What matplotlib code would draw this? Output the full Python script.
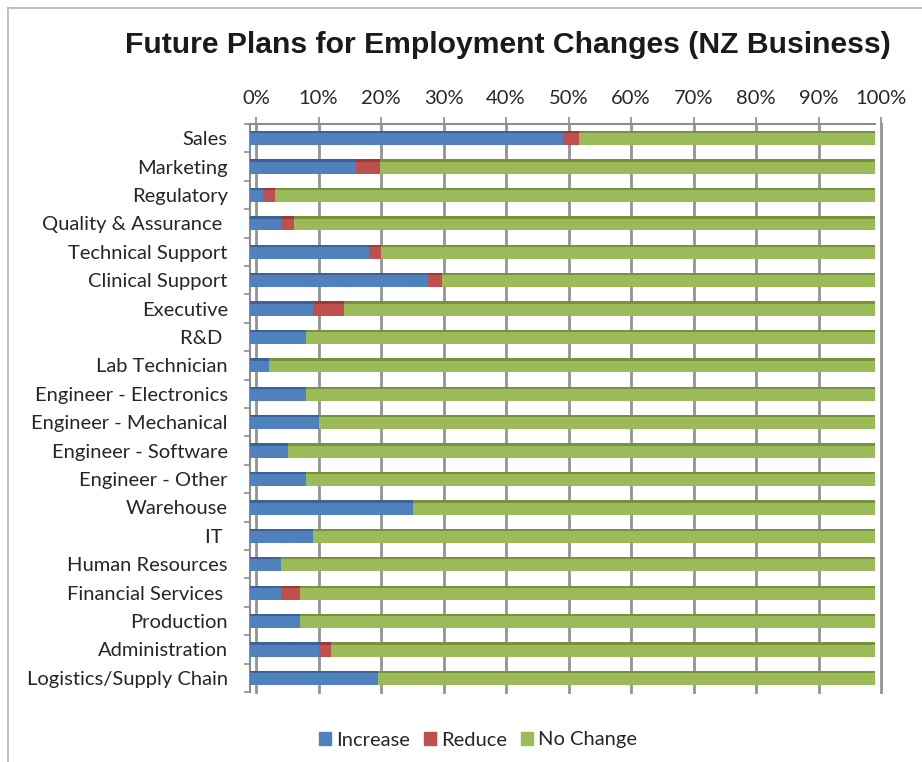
import matplotlib
matplotlib.use("Agg")
import matplotlib.pyplot as plt
import matplotlib.transforms as mtransforms
from matplotlib.lines import Line2D
import numpy as np

categories = ["Sales", "Marketing", "Regulatory", "Quality & Assurance ", "Technical Support",
              "Clinical Support", "Executive", "R&D ", "Lab Technician", "Engineer - Electronics",
              "Engineer - Mechanical", "Engineer - Software", "Engineer - Other", "Warehouse",
              "IT ", "Human Resources", "Financial Services ", "Production", "Administration",
              "Logistics/Supply Chain"]
increase = [50, 17, 2, 5, 19, 28.5, 10, 9, 3, 9, 11, 6, 9, 26, 10, 5, 5, 8, 11, 20.5]
reduce_ = [2.7, 3.8, 2, 2, 2, 2.2, 5, 0, 0, 0, 0, 0, 0, 0, 0, 0, 3, 0, 2, 0]
no_change = [100 - a - b for a, b in zip(increase, reduce_)]
ticks = list(range(0, 101, 10))
tick_labels = [f"{t}%" for t in ticks]
series_names = ["Increase", "Reduce", "No Change"]
colors = ["#4F81BD", "#C0504D", "#9BBB59"]
dark = ["#3A6396", "#983C3A", "#76923C"]

FONT = "Lato"
TXT = "#262626"
FS = 14.5

fig = plt.figure(figsize=(9.22, 7.62), dpi=100)
W, H = 922, 762
ax = fig.add_axes([250 / W, 1 - 692 / H, 625 / W, (692 - 124) / H])

y = np.arange(len(categories))
left = np.zeros(len(categories))
bh = 0.5
for vals, c, dc, name in zip([increase, reduce_, no_change], colors, dark, series_names):
    vals = np.array(vals, dtype=float)
    ax.barh(y, vals, left=left, height=bh, color=c, edgecolor="none", label=name, zorder=3)
    # darker top face to hint the 3D look
    ax.barh(y - bh / 2 + 0.04, vals, left=left, height=0.08, color=dc, edgecolor="none", zorder=4)
    left += vals

ax.set_xlim(0, 100)
ax.set_ylim(len(categories) - 0.5, -0.5)

# gridlines (back wall, slightly offset)
off = mtransforms.ScaledTranslation(6 / 100, 0, fig.dpi_scale_trans)
for t in ticks:
    ax.plot([t, t], [-0.5, len(categories) - 0.5], color="#949494", lw=2.0,
            transform=ax.transData + off, zorder=1, clip_on=False)

ax.xaxis.tick_top()
ax.set_xticks(ticks)
ax.set_xticklabels(tick_labels, fontsize=FS, color=TXT, family=FONT)
ax.tick_params(axis="x", length=5, width=1.2, color="#8c8c8c", pad=7)
for lab in ax.get_xticklabels():
    lab.set_transform(lab.get_transform() + off)
for tl in ax.xaxis.get_major_ticks():
    tl.tick2line.set_transform(tl.tick2line.get_transform() + off)
ax.set_yticks(y)
ax.set_yticklabels(categories, fontsize=FS, color=TXT, family=FONT)
ax.set_yticks(np.arange(len(categories) + 1) - 0.5, minor=True)
ax.tick_params(axis="y", which="major", length=0, pad=16)
ax.tick_params(axis="y", which="minor", length=4, width=1.2, color="#8c8c8c")

for s in ["right", "bottom"]:
    ax.spines[s].set_visible(False)
for s in ["left", "top"]:
    ax.spines[s].set_color("#8c8c8c")
    ax.spines[s].set_linewidth(1.5)
ax.set_facecolor("white")

fig.text(508 / W, 1 - 45 / H, "Future Plans for Employment Changes (NZ Business)",
         ha="center", va="center", fontsize=21.7, fontweight="bold", family="Liberation Sans",
         color="#1a1a1a")

handles = [plt.Rectangle((0, 0), 1, 1, color=c) for c in colors]
leg = fig.legend(handles, series_names, loc="center", bbox_to_anchor=(478 / W, 1 - 740 / H),
                 ncol=3, frameon=False, prop={"family": FONT, "size": FS},
                 handlelength=0.6, handleheight=0.6, handletextpad=0.25, columnspacing=0.7)
for t in leg.get_texts():
    t.set_color(TXT)

# outer chart frame
fig.add_artist(Line2D([8 / W, 8 / W], [0, 1 - 8 / H], color="#b5b5b5", lw=1.2, transform=fig.transFigure))
fig.add_artist(Line2D([8 / W, 1], [1 - 8 / H, 1 - 8 / H], color="#b5b5b5", lw=1.2, transform=fig.transFigure))

fig.savefig("out.png", dpi=100, facecolor="white")
